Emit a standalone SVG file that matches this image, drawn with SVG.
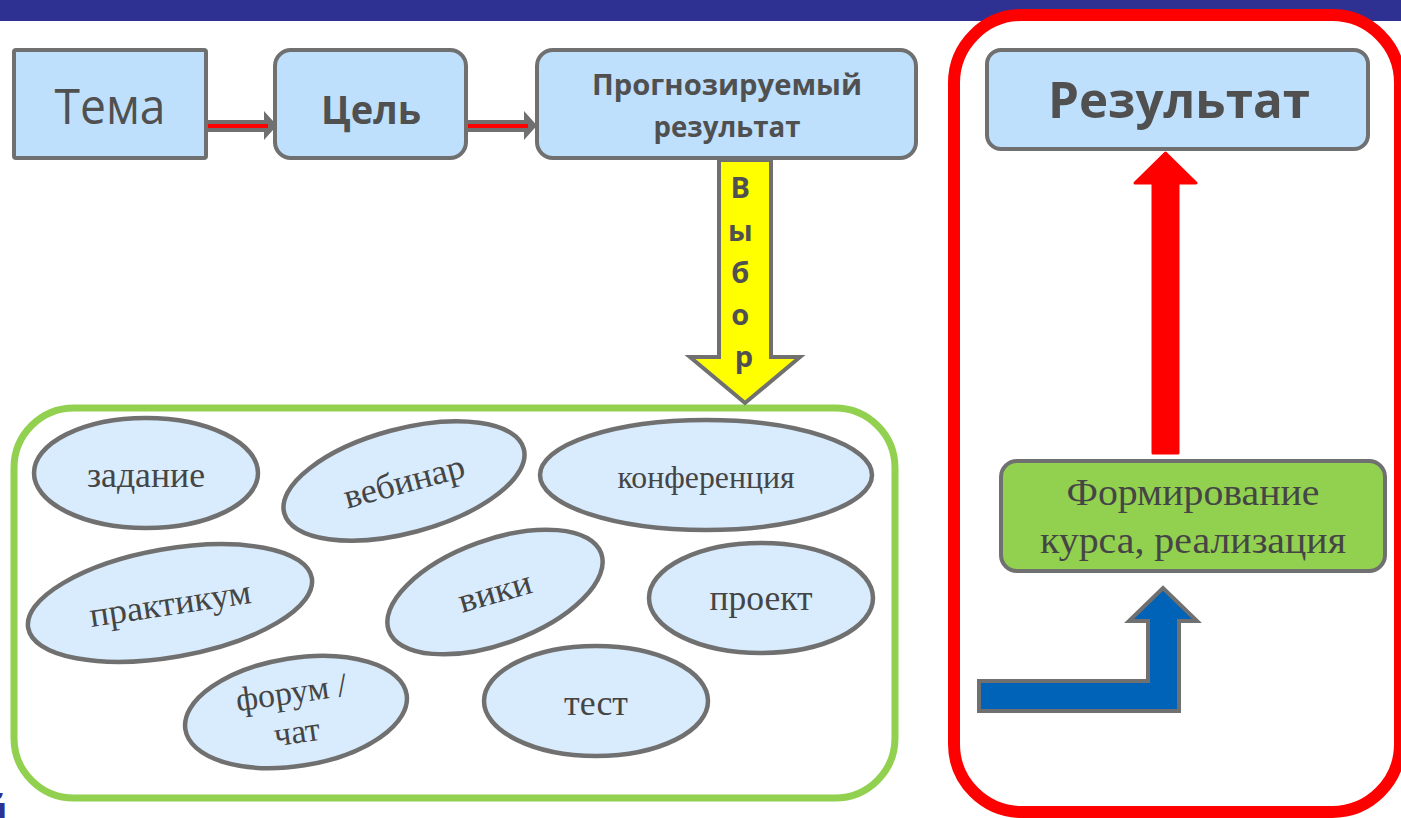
<svg xmlns="http://www.w3.org/2000/svg" width="1401" height="818" viewBox="0 0 1401 818">
<defs>
<style>
.box{fill:#bfe0fd;stroke:#707070;stroke-width:4}
.ell{fill:#d8ecfd;stroke:#707070;stroke-width:4.5}
.hd{font-family:"Open Sans","Noto Sans","DejaVu Sans",sans-serif;fill:#505050;text-anchor:middle}
.b{font-weight:bold}
.sf{font-family:"Liberation Serif","Times New Roman",serif;fill:#454545;text-anchor:middle;font-size:35px}
</style>
</defs>
<rect x="0" y="0" width="1401" height="21" fill="#2e3192"/>
<text x="8" y="828" font-family="Open Sans, sans-serif" font-size="44" font-weight="bold" fill="#2e3192" text-anchor="end">й</text>

<g id="red-frame">
<rect x="954" y="15" width="446" height="797" rx="68" fill="#ffffff" stroke="#ff0000" stroke-width="12"/>
</g>
<g id="green-frame">
<rect x="14" y="408" width="881" height="390" rx="60" fill="#ffffff" stroke="#92d050" stroke-width="7"/>
</g>

<g id="connectors">
<path d="M208,120 L264,120 L264,111 L277,125.5 L264,140 L264,132 L208,132 Z" fill="#707070"/>
<line x1="208" y1="126" x2="268" y2="126" stroke="#ff0000" stroke-width="4"/>
<path d="M468,120 L524,120 L524,111 L537,125.5 L524,140 L524,132 L468,132 Z" fill="#707070"/>
<line x1="468" y1="126" x2="528" y2="126" stroke="#ff0000" stroke-width="4"/>
<path d="M1153,453 L1153,183 L1135,183 L1165.5,153 L1196,183 L1178,183 L1178,453 Z" fill="#ff0000" stroke="#ff0000" stroke-width="3" stroke-linejoin="round"/>
<path d="M979,681 L1148,681 L1148,621 L1129,621 L1163,588 L1197,621 L1179,621 L1179,711 L979,711 Z" fill="#0063b7" stroke="#707070" stroke-width="4"/>
</g>

<g id="tema">
<rect class="box" x="14" y="50" width="192" height="108" rx="2"/>
<text class="hd" x="110" y="124" font-size="49" textLength="111" lengthAdjust="spacingAndGlyphs">Тема</text>
</g>
<g id="tsel">
<rect class="box" x="275" y="50" width="191" height="108" rx="16"/>
<text class="hd b" x="371" y="124" font-size="40" textLength="100" lengthAdjust="spacingAndGlyphs">Цель</text>
</g>
<g id="prognoz">
<rect class="box" x="537" y="50" width="379" height="108" rx="16"/>
<text class="hd b" x="727" y="95" font-size="29" textLength="270" lengthAdjust="spacingAndGlyphs">Прогнозируемый</text>
<text class="hd b" x="727" y="137" font-size="29" textLength="147" lengthAdjust="spacingAndGlyphs">результат</text>
</g>

<g id="vybor">
<path d="M719,160 L771,160 L771,357 L800,357 L745,403 L690,357 L719,357 Z" fill="#ffff00" stroke="#707070" stroke-width="4"/>
<text class="hd b" font-size="29">
<tspan x="744" y="198">В</tspan>
<tspan x="744" y="241">ы</tspan>
<tspan x="744" y="283">б</tspan>
<tspan x="744" y="325">о</tspan>
<tspan x="744" y="367">р</tspan>
</text>
</g>

<g id="rezultat">
<rect class="box" x="987" y="50" width="381" height="99" rx="14"/>
<text class="hd b" x="1179" y="118" font-size="50" textLength="262" lengthAdjust="spacingAndGlyphs">Результат</text>
</g>

<g id="formirovanie">
<rect x="1001" y="461" width="384" height="110" rx="16" fill="#92d050" stroke="#707070" stroke-width="4"/>
<text class="sf" x="1193" y="505" textLength="253" lengthAdjust="spacingAndGlyphs" style="font-size:38px">Формирование</text>
<text class="sf" x="1193" y="553" textLength="306" lengthAdjust="spacingAndGlyphs" style="font-size:38px">курса, реализация</text>
</g>

<g id="zadanie" transform="translate(146,473)">
<ellipse class="ell" cx="0" cy="0" rx="112" ry="55"/>
<text class="sf" x="0" y="14" textLength="118" lengthAdjust="spacingAndGlyphs">задание</text>
</g>
<g id="vebinar" transform="translate(404,481)">
<ellipse class="ell" cx="0" cy="0" rx="124" ry="52" transform="rotate(-15)"/>
<text class="sf" x="0" y="12" transform="rotate(-15)" textLength="124" lengthAdjust="spacingAndGlyphs">вебинар</text>
</g>
<g id="konferentsiya" transform="translate(706,475)">
<ellipse class="ell" cx="0" cy="0" rx="166" ry="55"/>
<text class="sf" x="0" y="13" textLength="177" lengthAdjust="spacingAndGlyphs" style="font-size:31px">конференция</text>
</g>
<g id="praktikum" transform="translate(170,603)">
<ellipse class="ell" cx="0" cy="0" rx="144" ry="54" transform="rotate(-10)"/>
<text class="sf" x="0" y="12" transform="rotate(-8.5)" textLength="163" lengthAdjust="spacingAndGlyphs">практикум</text>
</g>
<g id="viki" transform="translate(495,592)">
<ellipse class="ell" cx="0" cy="0" rx="113" ry="52" transform="rotate(-20)"/>
<text class="sf" x="0" y="11" transform="rotate(-16)" textLength="75" lengthAdjust="spacingAndGlyphs">вики</text>
</g>
<g id="proekt" transform="translate(761,598)">
<ellipse class="ell" cx="0" cy="0" rx="112" ry="55"/>
<text class="sf" x="0" y="12" textLength="103" lengthAdjust="spacingAndGlyphs">проект</text>
</g>
<g id="forum" transform="translate(296,712)">
<ellipse class="ell" cx="0" cy="0" rx="112" ry="54" transform="rotate(-9)"/>
<g transform="rotate(-8)">
<text class="sf" x="-2" y="-9" style="font-size:34px">форум /</text>
<text class="sf" x="-2" y="31" style="font-size:34px">чат</text>
</g>
</g>
<g id="test" transform="translate(596,701)">
<ellipse class="ell" cx="0" cy="0" rx="112" ry="55"/>
<text class="sf" x="0" y="14" textLength="64" lengthAdjust="spacingAndGlyphs">тест</text>
</g>
</svg>
